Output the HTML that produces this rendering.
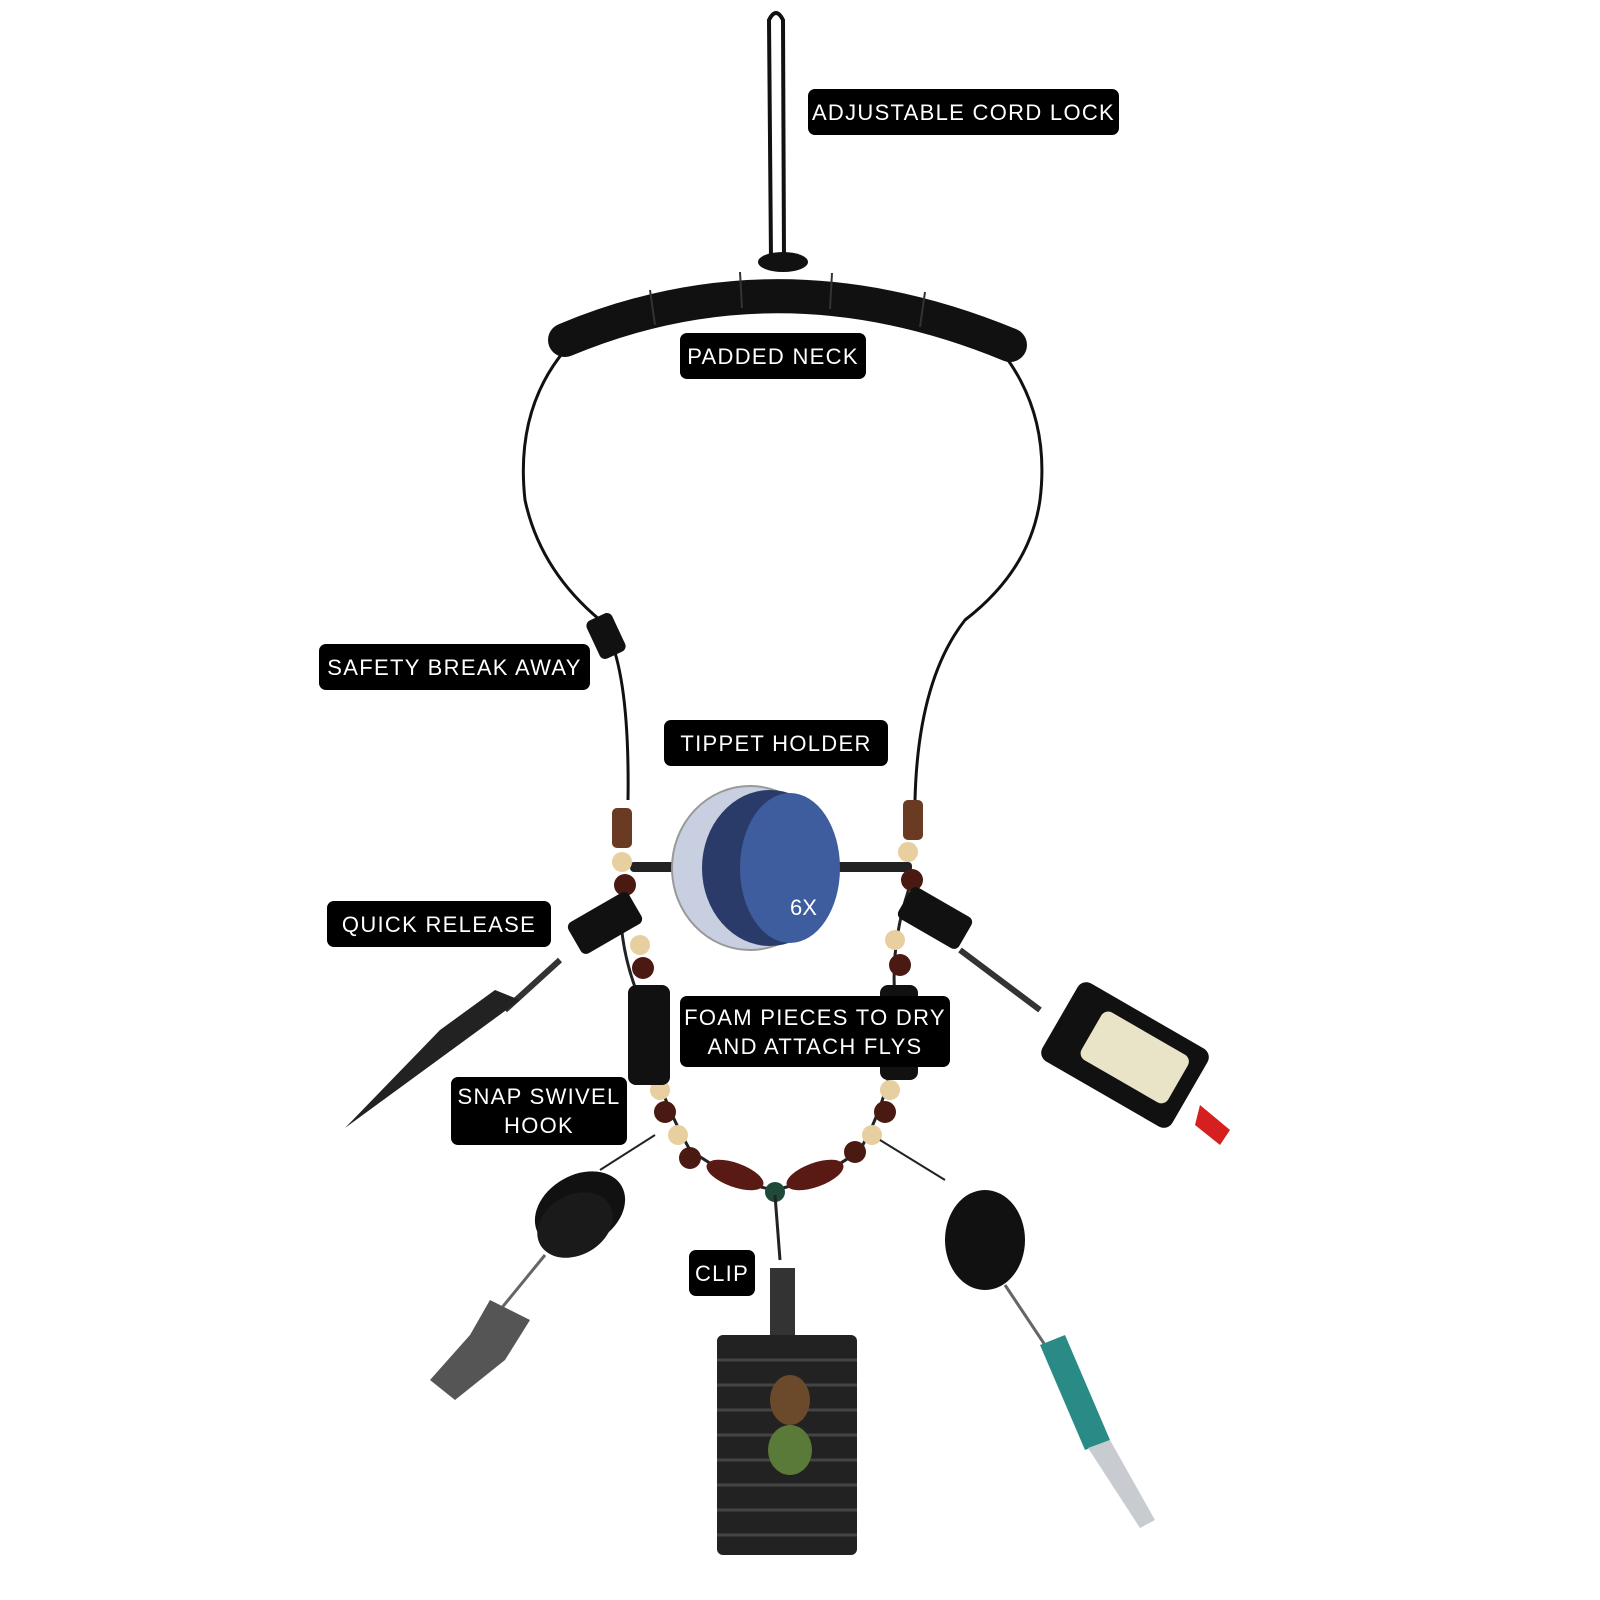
<!DOCTYPE html>
<html><head><meta charset="utf-8"><style>
body{margin:0;background:#fff;}
.wrap{position:relative;width:1600px;height:1600px;overflow:hidden;background:#fff;}
.lb{position:absolute;background:#000;color:#fff;border-radius:7px;font-family:"Liberation Sans",sans-serif;font-size:22px;letter-spacing:1.3px;text-align:center;line-height:29px;display:flex;align-items:center;justify-content:center;white-space:nowrap;}
svg{position:absolute;left:0;top:0;}
</style></head><body><div class="wrap">
<svg width="1600" height="1600" viewBox="0 0 1600 1600">
<path d="M771 260 L769 20 Q776 6 783 20 L784 260" fill="none" stroke="#111" stroke-width="4"/>
<ellipse cx="783" cy="262" rx="25" ry="10" fill="#111"/>
<path d="M565 340 Q780 250 1010 345" fill="none" stroke="#111" stroke-width="34" stroke-linecap="round"/>
<g stroke="#333" stroke-width="2"><line x1="650" y1="290" x2="655" y2="325"/><line x1="740" y1="272" x2="742" y2="308"/><line x1="832" y1="273" x2="830" y2="309"/><line x1="925" y1="292" x2="920" y2="327"/></g>
<path d="M565 350 Q515 410 525 500 Q540 570 600 620 Q630 660 628 800" fill="none" stroke="#111" stroke-width="3"/>
<path d="M1008 360 Q1050 420 1040 500 Q1030 570 965 620 Q918 680 915 800" fill="none" stroke="#111" stroke-width="3"/>
<rect x="592" y="615" width="28" height="42" rx="6" fill="#111" transform="rotate(-25 606 636)"/>
<rect x="612" y="808" width="20" height="40" rx="5" fill="#6b3a22"/>
<rect x="903" y="800" width="20" height="40" rx="5" fill="#6b3a22"/>
<rect x="630" y="862" width="282" height="10" rx="4" fill="#222"/>
<ellipse cx="750" cy="868" rx="78" ry="82" fill="#c7cfe0" stroke="#999" stroke-width="2"/>
<ellipse cx="770" cy="868" rx="68" ry="78" fill="#2a3b6a"/>
<ellipse cx="790" cy="868" rx="50" ry="75" fill="#3e5d9e"/>
<text x="790" y="915" fill="#fff" font-family="Liberation Sans,sans-serif" font-size="22">6X</text>
<path d="M622 880 Q615 940 640 1000 Q650 1080 690 1150 Q740 1185 775 1190 Q820 1180 860 1150 Q900 1080 895 1000 Q890 940 912 880" fill="none" stroke="#222" stroke-width="3"/>
<g>
<circle cx="622" cy="862" r="10" fill="#e8cfa0"/><circle cx="625" cy="885" r="11" fill="#4a1a12"/>
<circle cx="640" cy="945" r="10" fill="#e8cfa0"/><circle cx="643" cy="968" r="11" fill="#4a1a12"/>
<circle cx="908" cy="852" r="10" fill="#e8cfa0"/><circle cx="912" cy="880" r="11" fill="#4a1a12"/>
<circle cx="895" cy="940" r="10" fill="#e8cfa0"/><circle cx="900" cy="965" r="11" fill="#4a1a12"/>
<circle cx="660" cy="1090" r="10" fill="#e8cfa0"/><circle cx="665" cy="1112" r="11" fill="#4a1a12"/>
<circle cx="678" cy="1135" r="10" fill="#e8cfa0"/><circle cx="690" cy="1158" r="11" fill="#4a1a12"/>
<circle cx="890" cy="1090" r="10" fill="#e8cfa0"/><circle cx="885" cy="1112" r="11" fill="#4a1a12"/>
<circle cx="872" cy="1135" r="10" fill="#e8cfa0"/><circle cx="855" cy="1152" r="11" fill="#4a1a12"/>
<ellipse cx="735" cy="1175" rx="30" ry="12" fill="#5a1a14" transform="rotate(20 735 1175)"/>
<ellipse cx="815" cy="1175" rx="30" ry="12" fill="#5a1a14" transform="rotate(-20 815 1175)"/>
<circle cx="775" cy="1192" r="10" fill="#1f4a3a"/>
</g>
<rect x="628" y="985" width="42" height="100" rx="8" fill="#111"/>
<rect x="880" y="985" width="38" height="95" rx="8" fill="#111"/>
<rect x="570" y="905" width="70" height="36" rx="6" fill="#111" transform="rotate(-30 605 923)"/>
<path d="M560 960 L505 1010" stroke="#333" stroke-width="6"/>
<path d="M520 1000 L345 1128 L440 1030 L495 990 Z" fill="#222"/>
<rect x="900" y="900" width="70" height="36" rx="6" fill="#111" transform="rotate(30 935 918)"/>
<path d="M960 950 L1040 1010" stroke="#333" stroke-width="6"/>
<rect x="1050" y="1010" width="150" height="90" rx="10" fill="#111" transform="rotate(30 1125 1055)"/>
<rect x="1085" y="1030" width="100" height="55" rx="8" fill="#e9e3c8" transform="rotate(30 1135 1057)"/>
<path d="M1200 1105 L1230 1130 L1220 1145 L1195 1125 Z" fill="#d62020"/>
<path d="M655 1135 L600 1170" stroke="#222" stroke-width="2"/>
<ellipse cx="580" cy="1210" rx="48" ry="35" fill="#111" transform="rotate(-30 580 1210)"/>
<ellipse cx="575" cy="1225" rx="40" ry="30" fill="#1a1a1a" transform="rotate(-30 575 1225)"/>
<path d="M545 1255 L500 1310" stroke="#666" stroke-width="3"/>
<path d="M490 1300 L530 1320 L505 1360 L455 1400 L430 1380 L470 1335 Z" fill="#555"/>
<path d="M880 1140 L945 1180" stroke="#222" stroke-width="2"/>
<ellipse cx="985" cy="1240" rx="40" ry="50" fill="#111"/>
<path d="M1005 1285 L1045 1345" stroke="#666" stroke-width="3"/>
<path d="M1040 1345 L1065 1335 L1110 1440 L1085 1450 Z" fill="#2a8a85"/>
<path d="M1088 1448 L1110 1440 L1155 1520 L1140 1528 Z" fill="#c8ccd0"/>
<path d="M775 1195 L780 1260" stroke="#222" stroke-width="3"/>
<rect x="770" y="1268" width="25" height="70" fill="#333"/>
<rect x="717" y="1335" width="140" height="220" rx="6" fill="#222"/>
<g stroke="#444" stroke-width="3"><line x1="717" y1="1360" x2="857" y2="1360"/><line x1="717" y1="1385" x2="857" y2="1385"/><line x1="717" y1="1410" x2="857" y2="1410"/><line x1="717" y1="1435" x2="857" y2="1435"/><line x1="717" y1="1460" x2="857" y2="1460"/><line x1="717" y1="1485" x2="857" y2="1485"/><line x1="717" y1="1510" x2="857" y2="1510"/><line x1="717" y1="1535" x2="857" y2="1535"/></g>
<ellipse cx="790" cy="1400" rx="20" ry="25" fill="#6a4a2a"/><ellipse cx="790" cy="1450" rx="22" ry="25" fill="#5a7a3a"/>
</svg>
<div class="lb" style="left:808px;top:89px;width:311px;height:46px;">ADJUSTABLE CORD LOCK</div>
<div class="lb" style="left:680px;top:333px;width:186px;height:46px;">PADDED NECK</div>
<div class="lb" style="left:319px;top:644px;width:271px;height:46px;">SAFETY BREAK AWAY</div>
<div class="lb" style="left:664px;top:720px;width:224px;height:46px;">TIPPET HOLDER</div>
<div class="lb" style="left:327px;top:901px;width:224px;height:46px;">QUICK RELEASE</div>
<div class="lb" style="left:680px;top:996px;width:270px;height:71px;">FOAM PIECES TO DRY<br>AND ATTACH FLYS</div>
<div class="lb" style="left:451px;top:1077px;width:176px;height:68px;">SNAP SWIVEL<br>HOOK</div>
<div class="lb" style="left:689px;top:1250px;width:66px;height:46px;">CLIP</div>
</div></body></html>
